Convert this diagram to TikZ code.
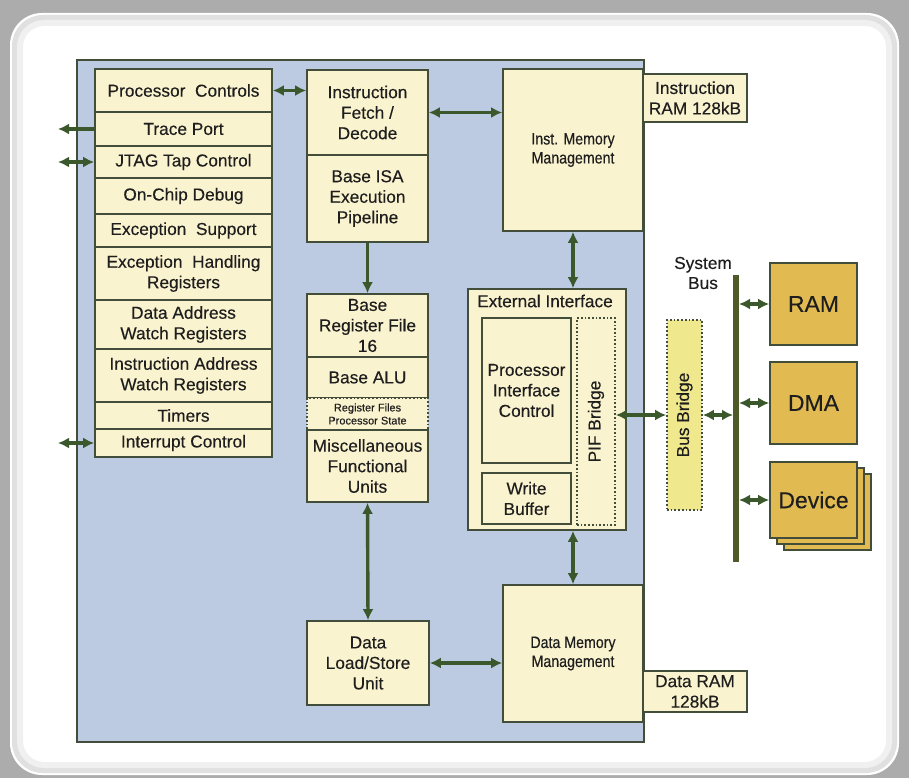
\documentclass[tikz,border=0pt]{standalone}
\usepackage{fontspec}
\setmainfont[FakeBold=0.3]{Liberation Sans}
\newfontfamily\narrowfont[FakeStretch=0.86,FakeBold=0.3]{Liberation Sans}
\usetikzlibrary{arrows.meta}
\definecolor{bluebg}{RGB}{188,203,226}
\definecolor{cream}{RGB}{250,243,207}
\definecolor{bord}{RGB}{66,78,58}
\definecolor{arrgreen}{RGB}{58,88,44}
\definecolor{gold}{RGB}{226,186,82}
\definecolor{bbfill}{RGB}{240,232,140}
\definecolor{busline}{RGB}{78,90,40}
\definecolor{outergray}{RGB}{172,172,172}
\definecolor{txt}{RGB}{30,30,30}
\begin{document}
\begin{tikzpicture}[x=1pt,y=-1pt,
  ubox/.style={draw=bord, fill=cream, line width=1.7pt, inner sep=0pt, align=center, text=txt,
     font=\fontsize{17.3}{20.5}\selectfont},
  dotbox/.style={ubox, dotted},
  goldbox/.style={draw=bord, fill=gold, line width=1.7pt, inner sep=0pt, text=txt,
     minimum width=87pt, minimum height=82pt, font=\fontsize{23}{24}\selectfont},
  memtext/.style={font=\narrowfont\fontsize{16.5}{19}\selectfont},
  dbl/.style={{Latex[length=11pt,width=11pt]}-{Latex[length=11pt,width=11pt]}, draw=arrgreen, line width=3.4pt},
  sgl/.style={-{Latex[length=11pt,width=11pt]}, draw=arrgreen, line width=3.4pt}]
\useasboundingbox (0,0) rectangle (909,778);
% background frame
\fill[outergray] (0,0) rectangle (909,778);
\fill[white, rounded corners=32pt] (10,13) rectangle (899,775);
\draw[black!12, line width=6pt, rounded corners=28pt] (15,18) rectangle (894,770);
\draw[black!6, line width=6pt, rounded corners=24pt] (20,23) rectangle (889,765);
% blue processor area
\draw[fill=bluebg, draw=bord, line width=1.7pt] (77,60) rectangle (644,742);
% left column
\node[ubox, minimum width=177pt, minimum height=43pt] (pc) at (183.5,90.5) {Processor\ \ Controls};
\node[ubox, minimum width=177pt, minimum height=34pt] (trace) at (183.5,129) {Trace Port};
\node[ubox, minimum width=177pt, minimum height=32pt] (jtag) at (183.5,162) {JTAG Tap Control};
\node[ubox, minimum width=177pt, minimum height=36pt] (ocd) at (183.5,196) {On-Chip Debug};
\node[ubox, minimum width=177pt, minimum height=33pt] (excs) at (183.5,230.5) {Exception\ \ Support};
\node[ubox, minimum width=177pt, minimum height=53pt] (exch) at (183.5,273.5) {Exception\ \ Handling\\Registers};
\node[ubox, minimum width=177pt, minimum height=49pt] (daw) at (183.5,324.5) {Data Address\\Watch Registers};
\node[ubox, minimum width=177pt, minimum height=53pt] (iaw) at (183.5,375.5) {Instruction Address\\Watch Registers};
\node[ubox, minimum width=177pt, minimum height=27pt] (timers) at (183.5,415.5) {Timers};
\node[ubox, minimum width=177pt, minimum height=28pt] (intc) at (183.5,443) {Interrupt Control};
% middle column
\node[ubox, minimum width=121pt, minimum height=85pt] (fetch) at (367.5,112.5) {Instruction\\Fetch /\\Decode};
\node[ubox, minimum width=121pt, minimum height=87pt] (isa) at (367.5,198.5) {Base ISA\\Execution\\Pipeline};
\node[ubox, minimum width=121pt, minimum height=63pt] (breg) at (367.5,325.5) {Base\\Register File\\16};
\node[ubox, minimum width=121pt, minimum height=41pt] (alu) at (367.5,377.5) {Base ALU};
\node[dotbox, minimum width=121pt, minimum height=32pt, font=\fontsize{11}{13}\selectfont] (rfps) at (367.5,414) {Register Files\\Processor State};
\node[ubox, minimum width=121pt, minimum height=72pt] (misc) at (367.5,466) {Miscellaneous\\Functional\\Units};
\node[ubox, minimum width=122pt, minimum height=84pt] (ls) at (368,663) {Data\\Load/Store\\Unit};
% memory management
\node[ubox, minimum width=140pt, minimum height=162pt, memtext] (imm) at (573,150) {Inst. Memory\\Management};
\node[ubox, minimum width=104pt, minimum height=48pt] (iram) at (695,98) {Instruction\\RAM 128kB};
\node[ubox, minimum width=140pt, minimum height=137pt, memtext] (dmm) at (573,653.5) {Data Memory\\Management};
\node[ubox, minimum width=104pt, minimum height=41pt] (dram) at (695,691.5) {Data RAM\\128kB};
% external interface
\node[ubox, minimum width=158pt, minimum height=241pt] (ext) at (547,409.5) {};
\node[anchor=west, inner sep=0pt, text=txt, font=\fontsize{17.3}{20}\selectfont] (extlbl) at (477,301) {External Interface};
\node[ubox, minimum width=89pt, minimum height=145pt] (pic) at (526.5,390.5) {Processor\\Interface\\Control};
\node[ubox, minimum width=89pt, minimum height=51pt] (wb) at (526.5,498.5) {Write\\Buffer};
\node[dotbox, minimum width=38pt, minimum height=207pt] (pif) at (596,421.5) {};
\node[rotate=90, text=txt, font=\fontsize{17.3}{20}\selectfont] at (pif.center) {PIF Bridge};
\node[dotbox, fill=bbfill, minimum width=35pt, minimum height=190pt] (bb) at (684.5,415) {};
\node[rotate=90, text=txt, font=\fontsize{17.3}{20}\selectfont] at (bb.center) {Bus Bridge};
% system bus
\node[align=center, text=txt, font=\fontsize{17.3}{20}\selectfont] (sblbl) at (703,273) {System\\Bus};
\coordinate (bustop) at (736,275);
\coordinate (busbot) at (736,562);
\draw[busline, line width=5.5pt] (bustop) -- (busbot);
\node[goldbox] (ram) at (813.5,304) {RAM};
\node[goldbox] (dma) at (813.5,403) {DMA};
\node[goldbox, minimum height=76pt] (dev3) at (827.5,512) {};
\node[goldbox, minimum height=76pt] (dev2) at (820.5,506) {};
\node[goldbox, minimum height=76pt] (dev) at (813.5,500) {Device};
% connectors
\draw[dbl] (pc.east) -- (pc.east -| fetch.west);
\coordinate (trend) at (58,129);
\coordinate (jtend) at (58,162);
\coordinate (inend) at (58,443);
\draw[sgl] (trace.west) -- (trend);
\draw[dbl] (jtag.west) -- (jtend);
\draw[dbl] (intc.west) -- (inend);
\draw[dbl] (fetch.east) -- (fetch.east -| imm.west);
\draw[sgl] (isa.south) -- (breg.north);
\draw[dbl] (misc.south) -- (ls.north);
\draw[dbl] (ls.east) -- (ls.east -| dmm.west);
\draw[dbl] (imm.south) -- (imm.south |- ext.north);
\draw[dbl] (ext.south -| dmm.north) -- (dmm.north);
\draw[dbl] (bb.west -| pif.east) -- (bb.west);
\draw[dbl, shorten >=3pt] (bb.east) -- (bb.east -| bustop);
\draw[dbl, shorten <=3pt] (ram.west -| bustop) -- (ram.west);
\draw[dbl, shorten <=3pt] (dma.west -| bustop) -- (dma.west);
\draw[dbl, shorten <=3pt] (dev.west -| bustop) -- (dev.west);
\end{tikzpicture}
\end{document}
